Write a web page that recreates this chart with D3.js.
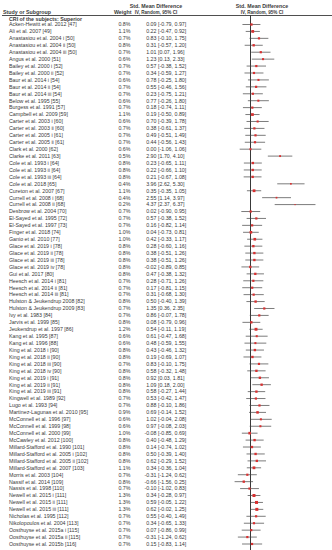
<!DOCTYPE html>
<html>
<head>
<meta charset="utf-8">
<script src="https://cdn.jsdelivr.net/npm/d3@7"></script>
<style>
  body { margin: 0; background: #fff; }
  svg text { font-family: "Liberation Sans", Arial, sans-serif; fill: #3a3a3a; }
</style>
</head>
<body>
<svg id="chart" width="332" height="550"></svg>
<script>
var width = 332, height = 550

var studies = [
  'Acken-Hewitt et al. 2012 [47]', 'Ali et al. 2007 [49]', 'Anastasiou et al. 2004 i [50]',
  'Anastasiou et al. 2004 ii [50]', 'Anastasiou et al. 2004 iii [50]', 'Angus et al. 2000 [51]',
  'Bailey et al. 2000 i [52]', 'Bailey et al. 2000 ii [52]', 'Baur et al. 2014 i [54]',
  'Baur et al. 2014 ii [54]', 'Baur et al. 2014 iii [54]', 'Below et al. 1995 [55]',
  'Burgess et al. 1991 [57]', 'Campbell et al. 2009 [59]', 'Carter et al. 2003 i [60]',
  'Carter et al. 2003 ii [60]', 'Carter et al. 2005 i [61]', 'Carter et al. 2005 ii [61]',
  'Clark et al. 2000 [62]', 'Clarke et al. 2011 [63]', 'Cole et al. 1993 i [64]',
  'Cole et al. 1993 ii [64]', 'Cole et al. 1993 iii [64]', 'Cole et al. 2018 [65]',
  'Cureton et al. 2007 [67]', 'Currell et al. 2008 i [68]', 'Currell et al. 2008 ii [68]',
  'Desbrow et al. 2004 [70]', 'El-Sayed et al. 1995 [72]', 'El-Sayed et al. 1997 [73]',
  'Finger et al. 2018 [74]', 'Ganio et al. 2010 [77]', 'Glace et al. 2019 i [78]',
  'Glace et al. 2019 ii [78]', 'Glace et al. 2019 iii [78]', 'Glace et al. 2019 iv [78]',
  'Gui et al. 2017 [80]', 'Heesch et al. 2014 i [81]', 'Heesch et al. 2014 ii [81]',
  'Heesch et al. 2014 iii [81]', 'Hulston & Jeukendrup 2008 [82]', 'Hulston & Jeukendrup 2009 [83]',
  'Ivy et al. 1983 [84]', 'Jarvis et al. 1999 [85]', 'Jeukendrup et al. 1997 [86]',
  'Kang et al. 1995 [87]', 'Kang et al. 1996 [88]', 'King et al. 2018 i [90]',
  'King et al. 2018 ii [90]', 'King et al. 2018 iii [90]', 'King et al. 2018 iv [90]',
  'King et al. 2019 i [91]', 'King et al. 2019 ii [91]', 'King et al. 2019 iii [91]',
  'Kingwell et al. 1989 [92]', 'Lugo et al. 1993 [94]', 'Martinez-Lagunas et al. 2010 [95]',
  'McConnell et al. 1996 [97]', 'McConnell et al. 1999 [98]', 'McConnell et al. 2000 [99]',
  'McCawley et al. 2012 [100]', 'Millard-Stafford et al. 1990 [101]', 'Millard-Stafford et al. 2005 i [102]',
  'Millard-Stafford et al. 2005 ii [102]', 'Millard-Stafford et al. 2007 [103]', 'Morris et al. 2003 [104]',
  'Nassif et al. 2014 [109]', 'Nassis et al. 1998 [110]', 'Newell et al. 2015 i [111]',
  'Newell et al. 2015 ii [111]', 'Newell et al. 2015 iii [111]', 'Nicholas et al. 1995 [112]',
  'Nikolopoulos et al. 2004 [113]', 'Oosthuyse et al. 2015a i [115]', 'Oosthuyse et al. 2015a ii [115]',
  'Oosthuyse et al. 2015b [116]'
]

var weights = [0.8, 1.1, 0.7, 0.8, 0.7, 0.6, 0.7, 0.7, 0.6, 0.7, 0.7, 0.6, 0.7, 1.1, 0.6, 0.7, 0.7, 0.7,
  0.6, 0.5, 0.8, 0.8, 0.8, 0.4, 1.1, 0.4, 0.2, 0.7, 0.7, 0.7, 1.0, 1.0, 0.8, 0.8, 0.8, 0.8, 0.8, 0.7,
  0.7, 0.7, 0.8, 0.7, 0.7, 0.8, 1.2, 0.6, 0.6, 0.8, 0.8, 0.7, 0.8, 0.8, 0.8, 0.8, 0.7, 0.7, 0.9, 0.6,
  0.6, 1.0, 0.8, 0.8, 0.8, 0.8, 1.1, 0.7, 0.8, 0.7, 1.3, 1.3, 1.3, 0.7, 0.7, 0.7, 0.7, 0.7]

var smd = [0.09, 0.22, 0.83, 0.31, 1.01, 1.23, 0.57, 0.34, 0.78, 0.55, 0.23, 0.77, 0.18, 0.19, 0.70,
  0.38, 0.49, 0.44, 0.00, 2.90, 0.23, 0.22, 0.21, 3.96, 0.35, 2.55, 4.37, 0.02, 0.57, 0.16, 0.04, 0.42,
  0.28, 0.38, 0.38, -0.02, 0.47, 0.28, 0.17, 0.31, 0.50, 1.35, 0.86, 0.08, 0.54, 0.61, 0.48, 0.43,
  0.19, 0.83, 0.58, 0.92, 1.09, 0.58, 0.53, 0.88, 0.69, 1.02, 0.97, -0.08, 0.40, 0.14, 0.50, 0.62,
  0.34, -0.31, -0.66, -0.10, 0.34, 0.59, 0.62, 0.55, 0.34, 0.07, -0.31, 0.15]

var lower = [-0.79, -0.47, -0.10, -0.57, 0.07, 0.13, -0.38, -0.59, -0.25, -0.46, -0.75, -0.26, -0.74,
  -0.50, -0.39, -0.61, -0.51, -0.56, -1.06, 1.70, -0.65, -0.66, -0.67, 2.62, -0.35, 1.14, 2.37, -0.90,
  -0.38, -0.82, -0.73, -0.33, -0.60, -0.51, -0.51, -0.89, -0.38, -0.71, -0.81, -0.68, -0.40, 0.36,
  -0.07, -0.79, -0.11, -0.47, -0.59, -0.46, -0.69, -0.10, -0.32, 0.03, 0.18, -0.27, -0.42, -0.10,
  -0.14, -0.04, -0.08, -0.85, -0.48, -0.74, -0.39, -0.29, -0.36, -1.24, -1.56, -1.02, -0.28, -0.05,
  -0.02, -0.40, -0.65, -0.86, -1.24, -0.83]

var upper = [0.97, 0.92, 1.75, 1.20, 1.96, 2.33, 1.52, 1.27, 1.80, 1.56, 1.21, 1.80, 1.11, 0.89, 1.78,
  1.37, 1.49, 1.43, 1.06, 4.10, 1.11, 1.10, 1.08, 5.30, 1.05, 3.97, 6.37, 0.95, 1.52, 1.14, 0.81, 1.17,
  1.16, 1.26, 1.26, 0.85, 1.32, 1.26, 1.15, 1.30, 1.39, 2.35, 1.78, 0.96, 1.19, 1.68, 1.55, 1.32, 1.07,
  1.75, 1.48, 1.81, 2.00, 1.44, 1.47, 1.86, 1.52, 2.08, 2.03, 0.69, 1.29, 1.02, 1.40, 1.52, 1.04, 0.62,
  0.25, 0.83, 0.97, 1.22, 1.25, 1.49, 1.33, 0.99, 0.62, 1.14]

var rows = studies.map(function(s, i) {
  return {study: s, weight: weights[i], est: smd[i], lo: lower[i], hi: upper[i]}
})

var svg = d3.select('#chart')
var fs = 5.3, fsSub = 4.6

// row positions
var y = d3.scaleLinear().domain([0, rows.length - 1]).range([24.5, 544])
// plot scale (Std. Mean Difference)
var x = d3.scaleLinear().domain([-5, 5]).range([199.5, 301.5])
var sq = d3.scaleSqrt().domain([0, 1.3]).range([0, 3])

var nameX = 9, weightX = 130.5

function fmt(v) { return v.toFixed(2) }

// headers
svg.append('text').attr('x', 156).attr('y', 8).attr('text-anchor', 'middle')
  .style('font-size', fs + 'px').style('font-weight', 'bold').text('Std. Mean Difference')
svg.append('text').attr('x', 262).attr('y', 8).attr('text-anchor', 'middle')
  .style('font-size', fs + 'px').style('font-weight', 'bold').text('Std. Mean Difference')
svg.append('text').attr('x', 3).attr('y', 14).style('font-size', fs + 'px').style('font-weight', 'bold')
  .text('Study or Subgroup')
svg.append('text').attr('x', weightX + 1).attr('y', 14).attr('text-anchor', 'end')
  .style('font-size', fs + 'px').style('font-weight', 'bold').text('Weight')
svg.append('text').attr('x', 156).attr('y', 14).attr('text-anchor', 'middle')
  .style('font-size', fsSub + 'px').style('font-weight', 'bold').text('IV, Random, 95% CI')
svg.append('text').attr('x', 262).attr('y', 14).attr('text-anchor', 'middle')
  .style('font-size', fsSub + 'px').style('font-weight', 'bold').text('IV, Random, 95% CI')

svg.append('line').attr('x1', 2).attr('x2', width).attr('y1', 15.5).attr('y2', 15.5)
  .attr('stroke', '#222').attr('stroke-width', 0.8)

svg.append('text').attr('x', nameX).attr('y', 20.5).style('font-size', fs + 'px').style('font-weight', 'bold')
  .text('CRI of the subjects: Superior')

// zero line
svg.append('line').attr('x1', x(0)).attr('x2', x(0)).attr('y1', 15.5).attr('y2', height)
  .attr('stroke', '#222').attr('stroke-width', 0.9)

var g = svg.selectAll('g.row')
  .data(rows)
  .enter().append('g').attr('class', 'row')
  .attr('transform', function(d, i) { return 'translate(0,' + y(i) + ')' })

g.append('text').attr('x', nameX).attr('dy', '0.35em').style('font-size', fs + 'px')
  .text(function(d) { return d.study })
g.append('text').attr('x', weightX).attr('dy', '0.35em').attr('text-anchor', 'end').style('font-size', fs + 'px')
  .text(function(d) { return d.weight.toFixed(1) + '%' })
g.append('text').attr('x', 156.5).attr('dy', '0.35em').attr('text-anchor', 'end').style('font-size', fs + 'px')
  .text(function(d) { return fmt(d.est) })
g.append('text').attr('x', 158).attr('dy', '0.35em').style('font-size', fs + 'px')
  .text(function(d) { return '[' + fmt(d.lo) + ', ' + fmt(d.hi) + ']' })

g.append('line')
  .attr('x1', function(d) { return x(d.lo) })
  .attr('x2', function(d) { return x(d.hi) })
  .attr('stroke', '#444').attr('stroke-width', 0.7)

g.append('rect')
  .attr('x', function(d) { return x(d.est) - sq(d.weight) / 2 })
  .attr('y', function(d) { return -sq(d.weight) / 2 })
  .attr('width', function(d) { return sq(d.weight) })
  .attr('height', function(d) { return sq(d.weight) })
  .attr('fill', '#d83030')
</script>
</body>
</html>
